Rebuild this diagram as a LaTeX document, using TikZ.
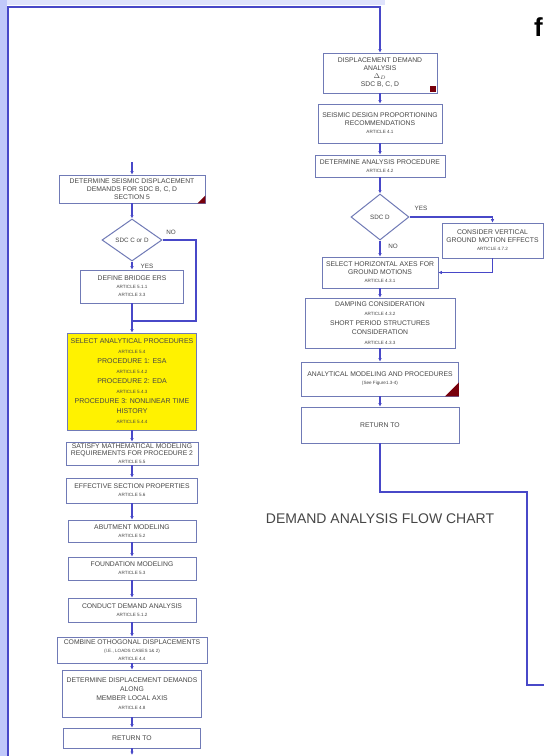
\documentclass[tikz,border=0pt]{standalone}
\usepackage{fontspec}
\setmainfont{Liberation Sans}
\usetikzlibrary{positioning,arrows.meta,shapes.geometric}

\definecolor{linkblue}{RGB}{72,72,200}
\definecolor{edgeblue}{RGB}{112,122,182}
\definecolor{stripblue}{RGB}{192,200,250}
\definecolor{inkgray}{RGB}{70,70,70}
\definecolor{flagred}{RGB}{120,0,12}

\newcommand{\art}[1]{{\fontsize{4.6}{5.5}\selectfont #1}}

\tikzset{
  box/.style={draw=edgeblue, line width=0.8pt, fill=white, align=center, inner sep=1pt,
    text=inkgray, font=\fontsize{6.8}{8}\selectfont},
  decide/.style={diamond, draw=edgeblue, line width=1pt, fill=white, inner sep=0pt,
    text=inkgray, font=\fontsize{6.3}{7}\selectfont},
  link/.style={draw=linkblue, line width=1.1pt, -{Latex[length=3.5pt,width=3.5pt]}},
  wire/.style={draw=linkblue, line width=1.1pt},
  tag/.style={text=inkgray, font=\fontsize{6.3}{7}\selectfont, inner sep=0pt},
}

\begin{document}
\begin{tikzpicture}[x=1pt,y=-1pt]
\useasboundingbox (0,0) rectangle (544,756);
\fill[white] (0,0) rectangle (544,756);

%% 帯
\fill[stripblue] (0,0) rectangle (7,756);
\fill[stripblue!50] (7,0) rectangle (385,5);

%%% left column
\node[box, minimum width=146pt, minimum height=28pt] (seis) at (132,189)
  {DETERMINE SEISMIC DISPLACEMENT\\DEMANDS FOR SDC B, C, D\\SECTION 5};
\node[decide, minimum width=60pt, minimum height=42pt] (sdccd) at (132,240) {SDC C or D};
\node[box, minimum width=103pt, minimum height=33pt] (ers) at (132,286.5)
  {DEFINE BRIDGE ERS\\\art{ARTICLE 5.1.1}\\\art{ARTICLE 3.3}};
\node[box, fill=yellow, minimum width=129pt, minimum height=97pt,
  font=\fontsize{7}{10}\selectfont] (proc) at (132,381.5)
  {SELECT ANALYTICAL PROCEDURES\\\art{ARTICLE 5.4}\\PROCEDURE 1: ESA\\\art{ARTICLE 5.4.2}\\
   PROCEDURE 2: EDA\\\art{ARTICLE 5.4.3}\\PROCEDURE 3: NONLINEAR TIME\\HISTORY\\\art{ARTICLE 5.4.4}};
\node[box, minimum width=132pt, minimum height=23pt, font=\fontsize{6.8}{7.6}\selectfont] (sat) at (132,453.5)
  {SATISFY MATHEMATICAL MODELING\\REQUIREMENTS FOR PROCEDURE 2\\\art{ARTICLE 5.5}};
\node[box, minimum width=131pt, minimum height=25pt] (eff) at (132,490.5)
  {EFFECTIVE SECTION PROPERTIES\\\art{ARTICLE 5.6}};
\node[box, minimum width=128pt, minimum height=22pt] (abut) at (132,531)
  {ABUTMENT MODELING\\\art{ARTICLE 5.2}};
\node[box, minimum width=128pt, minimum height=23pt] (fdn) at (132,568.5)
  {FOUNDATION MODELING\\\art{ARTICLE 5.3}};
\node[box, minimum width=128pt, minimum height=24pt] (cda) at (132,610)
  {CONDUCT DEMAND ANALYSIS\\\art{ARTICLE 5.1.2}};
\node[box, minimum width=150pt, minimum height=26pt] (comb) at (132,650)
  {COMBINE OTHOGONAL DISPLACEMENTS\\\art{(I.E., LOADS CASES 1\& 2)}\\\art{ARTICLE 4.4}};
\node[box, minimum width=139pt, minimum height=47pt, font=\fontsize{6.8}{9}\selectfont] (ddm) at (132,693.5)
  {DETERMINE DISPLACEMENT DEMANDS\\ALONG\\MEMBER LOCAL AXIS\\\art{ARTICLE 4.8}};
\node[box, minimum width=137pt, minimum height=20pt] (ret1) at (132,738) {RETURN TO};

\fill[flagred] (seis.south east) -- ++(-8,0) -- ++(8,-8) -- cycle;

\node[tag] (no1) at (171,232) {NO};
\node[tag] (yes1) at (147,266) {YES};

%%% right column
\node[box, minimum width=114pt, minimum height=40pt] (dda) at (380,73)
  {DISPLACEMENT DEMAND\\ANALYSIS\\$\Delta_D$\\SDC B, C, D};
\node[box, minimum width=124pt, minimum height=39pt] (sdp) at (380,123.5)
  {SEISMIC DESIGN PROPORTIONING\\RECOMMENDATIONS\\\art{ARTICLE 4.1}};
\node[box, minimum width=130pt, minimum height=22pt] (dap) at (380,166)
  {DETERMINE ANALYSIS PROCEDURE\\\art{ARTICLE 4.2}};
\node[decide, minimum width=58pt, minimum height=46pt] (sdcd) at (380,217) {SDC D};
\node[box, minimum width=101pt, minimum height=35pt] (cvg) at (492.5,240.5)
  {CONSIDER VERTICAL\\GROUND MOTION EFFECTS\\\art{ARTICLE 4.7.2}};
\node[box, minimum width=116pt, minimum height=31pt] (sha) at (380,272.5)
  {SELECT HORIZONTAL AXES FOR\\GROUND MOTIONS\\\art{ARTICLE 4.3.1}};
\node[box, minimum width=150pt, minimum height=50pt, font=\fontsize{6.8}{9.5}\selectfont] (dmp) at (380,323)
  {DAMPING CONSIDERATION\\\art{ARTICLE 4.3.2}\\SHORT PERIOD STRUCTURES\\CONSIDERATION\\\art{ARTICLE 4.3.3}};
\node[box, minimum width=157pt, minimum height=34pt] (amp) at (380,379)
  {ANALYTICAL MODELING AND PROCEDURES\\\art{(See Figure1.3-4)}};
\node[box, minimum width=158pt, minimum height=36pt] (ret2) at (380,425) {RETURN TO};

\node[fill=flagred, minimum size=6pt, inner sep=0pt, anchor=south east] (ddaflag)
  at ([xshift=-1pt,yshift=1pt]dda.south east) {};
\fill[flagred] (amp.south east) -- ++(-14,0) -- ++(14,-14) -- cycle;

\node[tag] (yes2) at (421,208) {YES};
\node[tag] (no2) at (393,246) {NO};

%% 線
\coordinate (topin) at (132,162);
\coordinate (noturn) at (196,321);
\coordinate (nojoin) at (132,321);
\coordinate (leftout) at (132,755);

\draw[link] (topin) -- (seis);
\draw[link] (seis) -- (sdccd);
\draw[link] (sdccd) -- (ers);
\draw[wire] (sdccd.east) -| (noturn) -- (nojoin);
\draw[wire] (ers) -- (nojoin);
\draw[link] (nojoin) -- (proc);
\draw[link] (proc) -- (sat);
\draw[link] (sat) -- (eff);
\draw[link] (eff) -- (abut);
\draw[link] (abut) -- (fdn);
\draw[link] (fdn) -- (cda);
\draw[link] (cda) -- (comb);
\draw[link] (comb) -- (ddm);
\draw[link] (ddm) -- (ret1);
\draw[link] (ret1) -- (leftout);

% return path
\coordinate (lowleft) at (8,760);
\coordinate (topleft) at (8,7);
\coordinate (topright) at (380,7);
\draw[link, line width=1.3pt] (lowleft) -- (topleft) -- (topright) -- (dda);

\coordinate (yesturn) at (492.5,217);
\coordinate (cvgturn) at (492.5,272.5);
\draw[link] (dda) -- (sdp);
\draw[link] (sdp) -- (dap);
\draw[link] (dap) -- (sdcd);
\draw[link] (sdcd) -- (sha);
\draw[link] (sdcd.east) -- (yesturn) -- (cvg);
\draw[link] (cvg) -- (cvgturn) -- (sha);
\draw[link] (sha) -- (dmp);
\draw[link] (dmp) -- (amp);
\draw[link] (amp) -- (ret2);

\coordinate (r1) at (380,492);
\coordinate (r2) at (527,492);
\coordinate (r3) at (527,685);
\coordinate (r4) at (550,685);
\draw[wire, line width=1.3pt] (ret2) -- (r1) -- (r2) -- (r3) -- (r4);

%% 表題
\node[text=inkgray, font=\fontsize{14}{16}\selectfont] (title) at (380,519) {DEMAND ANALYSIS FLOW CHART};
\node[anchor=east, inner sep=0pt, font=\bfseries\fontsize{26}{28}\selectfont] (cut) at (543,27) {f};

\end{tikzpicture}
\end{document}
